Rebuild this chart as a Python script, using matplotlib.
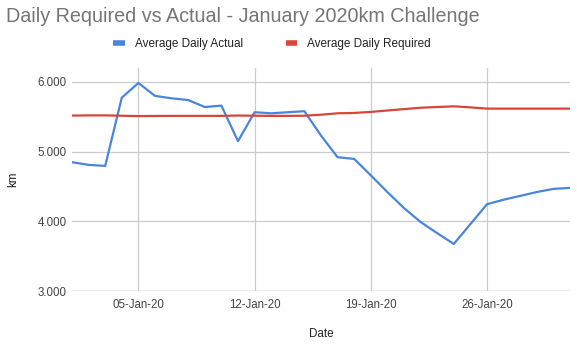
import matplotlib
matplotlib.use("Agg")
import matplotlib.pyplot as plt
import matplotlib.dates as mdates
import numpy as np
import datetime as dt

plt.rcParams['font.family'] = ['Liberation Sans', 'DejaVu Sans']

dates = [dt.date(2020, 1, d) for d in range(1, 32)]
actual = [4.848, 4.81, 4.795, 5.775, 5.985, 5.80, 5.765, 5.74, 5.64, 5.66,
          5.15, 5.565, 5.55, 5.565, 5.58, 5.23, 4.92, 4.895, 4.66, 4.42,
          4.19, 3.99, 3.83, 3.675, 3.96, 4.245, 4.31, 4.365, 4.42, 4.465, 4.48]
required = [5.517, 5.52, 5.52, 5.515, 5.51, 5.512, 5.513, 5.513, 5.513, 5.513,
            5.518, 5.515, 5.513, 5.513, 5.515, 5.53, 5.55, 5.555, 5.57, 5.59,
            5.61, 5.63, 5.64, 5.65, 5.635, 5.617, 5.617, 5.617, 5.617, 5.617, 5.617]
yticks = [3, 4, 5, 6]
xtick_dates = [dt.date(2020, 1, d) for d in (5, 12, 19, 26)]

W, H = 577, 346
fig = plt.figure(figsize=(W / 100, H / 100), dpi=100)
ax = fig.add_axes([72 / W, (H - 291) / H, (570 - 72) / W, (291 - 68) / H])

ax.plot(dates, actual, color='#4a85dc', lw=1.6, label='Average Daily Actual', solid_joinstyle='round')
ax.plot(dates, required, color='#d9453a', lw=1.6, label='Average Daily Required')

ax.set_xlim(dates[0], dates[-1])
ax.set_ylim(3, 6.2)
ax.set_yticks(yticks)
ax.yaxis.set_major_formatter(matplotlib.ticker.FormatStrFormatter('%.3f'))
ax.set_xticks(xtick_dates)
ax.xaxis.set_major_formatter(mdates.DateFormatter('%d-%b-%y'))

for s in ax.spines.values():
    s.set_visible(False)
ax.grid(True, color='#cccccc', lw=0.9)
ax.set_axisbelow(True)
ax.tick_params(axis='both', length=0, labelsize=8.3, labelcolor='#444444')
ax.tick_params(axis='y', pad=4)
ax.tick_params(axis='x', pad=6)
ax.axhline(3, color='#bbbbbb', lw=1.0, zorder=0)

ax.set_xlabel('Date', fontsize=8.4, color='#222222', labelpad=12)
ax.set_ylabel('km', fontsize=8.4, color='#222222', labelpad=13)

fig.text(6 / W, 1 - 16 / H, 'Daily Required vs Actual - January 2020km Challenge',
         fontsize=14.2, color='#757575', va='center', ha='left')

leg = fig.legend(loc='center', bbox_to_anchor=(272 / W, 1 - 44 / H), ncol=2, frameon=False,
                 fontsize=8.5, handlelength=1.0, handletextpad=0.85, columnspacing=3.6,
                 borderaxespad=0, borderpad=0)
for t in leg.get_texts():
    t.set_color('#222222')
for l in leg.get_lines():
    l.set_linewidth(4)
    l.set_solid_capstyle('butt')

fig.savefig('out.png', dpi=100)
